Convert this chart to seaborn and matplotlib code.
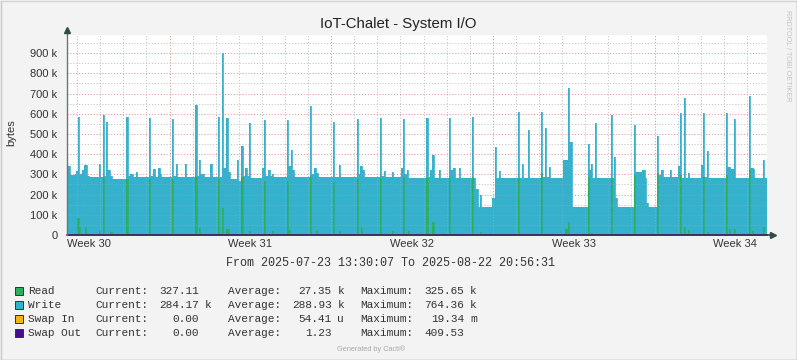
import matplotlib
matplotlib.use('Agg')
import matplotlib.pyplot as plt
import seaborn as sns
from matplotlib.patches import Rectangle
from matplotlib.lines import Line2D

# time axis: days since 2025-07-23 13:30:07, values in k (bytes)
write_days = [0.00, 0.11, 0.35, 0.41, 0.48, 0.54, 0.65, 0.74, 0.87, 0.95,
              1.39, 1.45, 1.56, 1.62, 1.69, 1.75, 1.88, 1.97, 2.55, 2.62,
              2.73, 2.86, 2.99, 3.05, 3.55, 3.61, 3.72, 3.81, 3.94, 4.03,
              4.09, 4.55, 4.61, 4.72, 4.78, 5.11, 5.17, 5.54, 5.61, 5.71,
              5.78, 5.95, 6.21, 6.28, 6.54, 6.60, 6.71, 6.77, 6.88, 6.95,
              7.06, 7.36, 7.42, 7.53, 7.60, 7.71, 7.79, 7.88, 7.94, 8.46,
              8.53, 8.59, 8.70, 8.79, 8.87, 8.94, 9.52, 9.59, 9.70, 9.76,
              9.85, 10.52, 10.58, 10.69, 10.80, 10.87, 11.52, 11.58, 11.77, 11.84,
              12.55, 12.62, 12.68, 12.77, 12.84, 13.55, 13.61, 13.72, 13.79, 14.07,
              14.13, 14.48, 14.55, 14.61, 14.72, 14.78, 15.54, 15.61, 15.71, 15.80,
              15.87, 16.10, 16.17, 16.54, 16.60, 16.71, 16.82, 16.97, 17.03, 17.53,
              17.60, 17.68, 17.79, 17.88, 17.94, 18.42, 18.53, 18.59, 18.70, 18.77,
              19.52, 19.59, 19.70, 19.76, 19.96, 20.02, 20.52, 20.58, 20.69, 20.76,
              20.87, 20.93, 21.49, 21.69, 21.75, 21.86, 22.55, 22.62, 22.68, 22.75,
              22.86, 22.92, 23.55, 23.61, 23.68, 23.74, 23.81, 24.55, 24.61, 24.89,
              25.02, 25.09, 25.15, 25.54, 25.61, 25.74, 25.80, 26.10, 26.17, 26.45,
              26.54, 26.60, 26.71, 26.77, 26.88, 26.95, 27.45, 27.53, 27.60, 27.71,
              27.77, 28.53, 28.59, 28.72, 28.87, 28.94, 29.52, 29.59, 29.70, 29.76,
              30.13, 30.19, 30.31]
write_k = [341, 297, 303, 315, 585, 300, 322, 346, 292, 285,
           351, 285, 593, 290, 560, 322, 290, 277, 585, 290,
           303, 285, 310, 285, 580, 290, 325, 285, 330, 300,
           285, 574, 290, 351, 285, 351, 285, 643, 290, 371,
           300, 285, 351, 285, 582, 285, 899, 330, 577, 310,
           277, 371, 268, 440, 290, 330, 290, 552, 280, 330,
           569, 290, 322, 290, 301, 285, 569, 340, 420, 322,
           285, 638, 300, 330, 308, 285, 560, 285, 346, 285,
           574, 300, 340, 322, 285, 577, 290, 317, 285, 310,
           285, 330, 574, 300, 322, 283, 577, 285, 321, 396,
           280, 321, 280, 577, 321, 330, 280, 330, 280, 582,
           280, 227, 137, 198, 137, 181, 437, 280, 316, 283,
           608, 283, 351, 283, 519, 283, 608, 288, 528, 285,
           335, 280, 371, 730, 461, 137, 450, 321, 353, 280,
           552, 280, 593, 280, 387, 181, 137, 544, 313, 321,
           280, 157, 137, 490, 297, 321, 285, 321, 285, 341,
           602, 283, 676, 280, 305, 280, 346, 602, 288, 417,
           283, 605, 335, 326, 574, 280, 689, 330, 326, 283,
           371, 283, 283]

read_days = [0.00, 0.45, 0.52, 0.58, 0.76, 0.82, 1.39, 1.45, 1.56, 1.62,
             1.86, 1.93, 2.55, 2.62, 3.55, 3.61, 4.55, 4.61, 5.54, 5.61,
             5.71, 5.78, 6.54, 6.60, 6.71, 6.77, 6.88, 7.03, 7.53, 7.60,
             7.88, 7.94, 8.53, 8.59, 8.87, 8.94, 9.52, 9.59, 9.65, 10.52,
             10.58, 10.78, 10.84, 11.52, 11.58, 11.77, 11.84, 12.55, 12.62, 12.73,
             12.79, 13.55, 13.61, 14.07, 14.13, 14.55, 14.61, 14.76, 14.83, 15.54,
             15.61, 15.80, 15.87, 16.54, 16.60, 17.53, 17.60, 17.88, 17.94, 19.52,
             19.59, 20.52, 20.58, 21.56, 21.69, 21.75, 22.55, 22.62, 22.68, 22.75,
             23.55, 23.61, 24.55, 24.61, 25.54, 25.61, 26.54, 26.60, 26.71, 26.77,
             26.88, 26.95, 27.53, 27.60, 27.71, 27.77, 28.53, 28.59, 28.66, 28.72,
             28.87, 28.94, 29.52, 29.59, 29.65, 29.72, 30.13, 30.19, 30.31]
read_k = [0, 84, 40, 0, 41, 0, 20, 0, 285, 0,
          15, 0, 277, 0, 277, 0, 277, 0, 288, 0,
          35, 0, 275, 0, 132, 0, 30, 0, 285, 0,
          20, 0, 269, 0, 20, 0, 269, 25, 0, 288,
          0, 18, 0, 264, 0, 18, 0, 277, 0, 35,
          0, 280, 0, 18, 0, 288, 0, 18, 0, 280,
          0, 66, 0, 280, 0, 283, 0, 16, 0, 283,
          0, 308, 0, 30, 66, 0, 288, 0, 10, 0,
          280, 0, 297, 0, 305, 0, 297, 0, 41, 0,
          25, 0, 288, 0, 15, 0, 297, 0, 30, 0,
          30, 0, 321, 0, 20, 0, 41, 0, 0]

swap_days = [0.00, 30.31]
swap_out_k = [0, 0]

day_lines = [0.44 + d for d in range(30)]
monday_lines = [4.44, 11.44, 18.44, 25.44]
week_pos = [0.94, 7.94, 14.94, 21.94, 28.94]
week_labels = ['Week 30', 'Week 31', 'Week 32', 'Week 33', 'Week 34']

legend_names = ['Read', 'Write', 'Swap In', 'Swap Out']
legend_colors = ['#2DAE5E', '#36B1CD', '#F8B21E', '#4A0C95']
cur_vals = ['327.11', '284.17', '0.00', '0.00']
cur_units = ['', 'k', '', '']
avg_vals = ['27.35', '288.93', '54.41', '1.23']
avg_units = ['k', 'k', 'u', '']
max_vals = ['325.65', '764.36', '19.34', '409.53']
max_units = ['k', 'k', 'm', '']

W, H = 797, 360
BG = '#F3F3F3'
WRITE = legend_colors[1]
READ = legend_colors[0]
GRID_MINOR = '#C4C4C4'
GRID_MAJOR = '#E29A9A'

sns.set_theme(style='white')
plt.rcParams['font.family'] = ['Liberation Sans', 'DejaVu Sans']

fig = plt.figure(figsize=(W / 100, H / 100), dpi=100, facecolor=BG)
ax = fig.add_axes([67 / W, 1 - 235 / H, 700 / W, 200 / H])
ax.set_facecolor('white')


def fx(x):
    return x / W


def fy(y):
    return 1 - y / H


ax.fill_between(write_days, 0, write_k, step='post', color=WRITE, lw=0, zorder=1)
sns.lineplot(x=write_days, y=write_k, drawstyle='steps-post', estimator=None,
             color=WRITE, lw=0.6, ax=ax, zorder=1.1)
ax.fill_between(read_days, 0, read_k, step='post', color=READ, lw=0, zorder=1.2)
sns.lineplot(x=read_days, y=read_k, drawstyle='steps-post', estimator=None,
             color=READ, lw=0.5, ax=ax, zorder=1.3)
sns.lineplot(x=swap_days, y=swap_out_k, color='#3D2F66', lw=1.4, ax=ax,
             zorder=3, clip_on=False)

ax.set_xlim(0, 30.31)
ax.set_ylim(0, 990)

ax.set_yticks(range(0, 1000, 100))
ax.set_yticklabels(['0'] + [f'{v} k' for v in range(100, 1000, 100)])
ax.set_yticks(range(50, 1000, 100), minor=True)
ax.set_xticks(monday_lines)
ax.set_xticklabels([])
ax.set_xticks(day_lines, minor=True)

# grid: full strength on the white background, faint over the data
ax.set_axisbelow(True)
dots = (0, (1, 2))
ax.grid(which='minor', color=GRID_MINOR, ls=dots, lw=0.7)
ax.grid(which='major', color=GRID_MAJOR, ls=dots, lw=0.7)
for v in range(50, 1000, 100):
    ax.axhline(v, color=GRID_MINOR, ls=dots, lw=0.7, alpha=0.3, zorder=2)
for v in range(100, 1000, 100):
    ax.axhline(v, color=GRID_MAJOR, ls=dots, lw=0.7, alpha=0.3, zorder=2)
for v in day_lines:
    ax.axvline(v, color=GRID_MINOR, ls=dots, lw=0.7, alpha=0.3, zorder=2)
for v in monday_lines:
    ax.axvline(v, color=GRID_MAJOR, ls=dots, lw=0.7, alpha=0.4, zorder=2)

ax.tick_params(axis='y', which='both', length=0, pad=7, labelsize=8,
               labelcolor='#333333')
ax.tick_params(axis='x', which='major', length=2.5, width=0.6, color='#C08080',
               direction='out')
ax.tick_params(axis='x', which='minor', length=2, width=0.5, color='#A0A0A0',
               direction='out')

for pos, lab in zip(week_pos, week_labels):
    ax.text(pos, -0.022, lab, transform=ax.get_xaxis_transform(), ha='center',
            va='top', fontsize=8, color='#333333')

for s in ['top', 'right', 'bottom']:
    ax.spines[s].set_visible(False)
ax.spines['left'].set_color('#5E7C74')
ax.spines['left'].set_linewidth(1)
ax.spines['left'].set_zorder(4)

# axis arrows
axis_col = '#2F4B44'
ax.add_line(Line2D([0, 0], [1, 1.025], transform=ax.transAxes, color='#5E7C74',
                   lw=1, clip_on=False))
ax.plot([0], [1.025], marker='^', ms=4.5, color=axis_col, transform=ax.transAxes,
        clip_on=False)
ax.add_line(Line2D([1, 1.008], [0, 0], transform=ax.transAxes, color='#3D2F66',
                   lw=1.2, clip_on=False))
ax.plot([1.009], [0], marker='>', ms=4.5, color=axis_col, transform=ax.transAxes,
        clip_on=False)

fig.text(fx(398.5), fy(28), 'IoT-Chalet - System I/O', ha='center',
         va='baseline', fontsize=10.8, color='#222222')
fig.text(fx(11), fy(133), 'bytes', rotation=90, ha='center', va='center',
         fontsize=8, color='#333333')
fig.text(fx(787.5), fy(56), 'RRDTOOL / TOBI OETIKER', rotation=270,
         ha='center', va='center', fontsize=5.2, color='#C4C4C4')

mono = ['Liberation Mono', 'DejaVu Sans Mono']
fig.text(fx(390), fy(263), 'From 2025-07-23 13:30:07 To 2025-08-22 20:56:31',
         ha='center', va='center', fontsize=8.5, family=mono, color='#333333')

for i, name in enumerate(legend_names):
    y = 291.3 + 13.9 * i
    fig.add_artist(Rectangle((fx(14.5), fy(y + 4)), 8 / W, 8 / H,
                             transform=fig.transFigure, facecolor=legend_colors[i],
                             edgecolor='#333333', lw=0.7))
    kw = dict(va='center', fontsize=8, family=mono, color='#333333')
    fig.text(fx(28.3), fy(y), name, ha='left', **kw)
    fig.text(fx(95.7), fy(y), 'Current:', ha='left', **kw)
    fig.text(fx(199), fy(y), cur_vals[i], ha='right', **kw)
    fig.text(fx(205), fy(y), cur_units[i], ha='left', **kw)
    fig.text(fx(227.7), fy(y), 'Average:', ha='left', **kw)
    fig.text(fx(331.7), fy(y), avg_vals[i], ha='right', **kw)
    fig.text(fx(337.5), fy(y), avg_units[i], ha='left', **kw)
    fig.text(fx(360), fy(y), 'Maximum:', ha='left', **kw)
    fig.text(fx(464), fy(y), max_vals[i], ha='right', **kw)
    fig.text(fx(470), fy(y), max_units[i], ha='left', **kw)

fig.text(fx(371.5), fy(349.5), 'Generated by Cacti®', ha='center', va='center',
         fontsize=5.3, color='#AAAAAA')

# image frame
for xs, ys, c in [([0.5, 796.5], [0.5, 0.5], '#D4D4D4'),
                  ([0.5, 0.5], [0.5, 359.5], '#C8C8C8'),
                  ([796.5, 796.5], [0.5, 359.5], '#9A9A9A'),
                  ([0.5, 796.5], [359.5, 359.5], '#9A9A9A')]:
    fig.add_artist(Line2D([fx(v) for v in xs], [fy(v) for v in ys],
                          transform=fig.transFigure, color=c, lw=1))

fig.savefig('out.png', dpi=100, facecolor=BG)
